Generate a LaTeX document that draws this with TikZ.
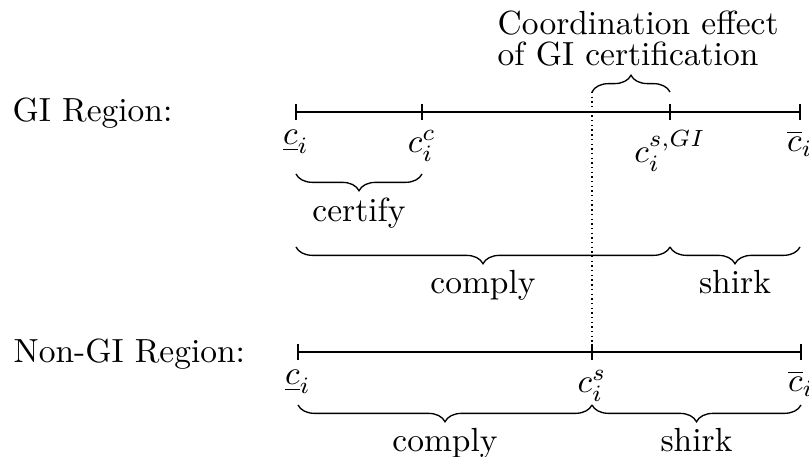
\documentclass[tikz,border=0pt]{standalone}
\usepackage{amsmath,amssymb}
\usetikzlibrary{positioning,decorations.pathreplacing}

\begin{document}
\begin{tikzpicture}[x=0.0105cm, y=-0.0105cm,
    brc/.style={decorate, decoration={brace, amplitude=5pt}},
    brclabel/.style={midway, below=3.5pt},
    ticklabel/.style={below=2pt}]
\useasboundingbox (0,0) rectangle (809,457);

% Region labels
\node[anchor=base west, inner sep=0] (gilab) at (12,122) {GI Region:};
\node[anchor=base west, inner sep=0] (ngilab) at (13,363) {Non-GI Region:};

% Points on the two lines
\coordinate (gL) at (296,112);
\coordinate (gC) at (422,112);
\coordinate (gS) at (670,112);
\coordinate (gR) at (800,112);
\coordinate (nL) at (298,352);
\coordinate (nS) at (592,352);
\coordinate (nR) at (801,352);

% Lines and ticks
\draw (gL) -- (gR);
\draw (nL) -- (nR);
\foreach \p in {gL,gC,gS,gR,nL,nS,nR} {
    \draw (\p) ++(0,-8) -- ++(0,16);
}

% Tick labels
\node[ticklabel] (lgL) at (gL) {$\underline{c}_i$};
\node[ticklabel] (lgC) at (gC) {$c_i^c$};
\node[ticklabel] (lgS) at (gS) {$c_i^{s,GI}$};
\node[ticklabel] (lgR) at (gR) {$\overline{c}_i$};
\node[ticklabel] (lnL) at (nL) {$\underline{c}_i$};
\node[ticklabel] (lnS) at (nS) {$c_i^s$};
\node[ticklabel] (lnR) at (nR) {$\overline{c}_i$};

% Coordination effect
\coordinate (eL) at (592,92);
\coordinate (eR) at (670,92);
\draw[densely dotted] (eL) -- (nS);
\draw[brc] (eL) -- (eR);
\node[anchor=north west, inner sep=0, align=left] (effect) at (497,10)
    {Coordination effect\\[-2.6pt]of GI certification};

% GI braces
\coordinate (cL) at (296,174);
\coordinate (cR) at (422,174);
\draw[brc] (cR) -- (cL) node[brclabel] (certify) {certify};
\coordinate (bL) at (296,247);
\coordinate (bS) at (670,247);
\coordinate (bR) at (800,247);
\draw[brc] (bS) -- (bL) node[brclabel] (gcomply) {comply};
\draw[brc] (bR) -- (bS) node[brclabel] (gshirk) {shirk};

% Non-GI braces
\coordinate (dL) at (298,405);
\coordinate (dS) at (592,405);
\coordinate (dR) at (801,405);
\draw[brc] (dS) -- (dL) node[brclabel] (ncomply) {comply};
\draw[brc] (dR) -- (dS) node[brclabel] (nshirk) {shirk};

\end{tikzpicture}
\end{document}
